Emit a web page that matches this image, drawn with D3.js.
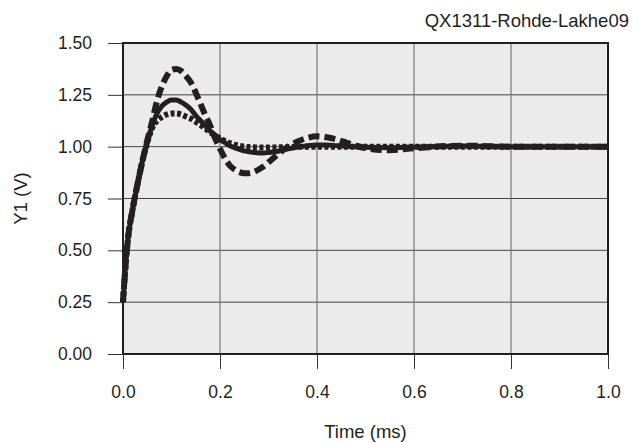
<!DOCTYPE html>
<html>
<head>
<meta charset="utf-8">
<script src="https://cdn.jsdelivr.net/npm/d3@7"></script>
<style>
body{margin:0;background:#fff}
text{font-family:"Liberation Sans",Arial,sans-serif;fill:#231f20}
</style>
</head>
<body>
<div id="chart"></div>
<script>
// time in ms, shared by all three responses
var times = [0,0.005,0.01,0.02,0.03,0.04,0.05,0.06,0.07,0.08,0.09,0.10,0.11,0.12,0.13,0.14,0.15,0.16,0.17,0.18,0.19,0.20,
	0.21,0.22,0.23,0.24,0.25,0.26,0.27,0.28,0.29,0.30,0.32,0.34,0.36,0.38,0.40,0.42,0.44,0.46,0.48,0.50,0.55,0.60,0.70,0.80,0.90,1.0]

var dashedY = [0.25,0.42,0.55,0.70,0.82,0.93,1.03,1.12,1.22,1.29,1.34,1.37,1.375,1.365,1.34,1.31,1.26,1.205,1.15,1.10,1.04,0.99,
	0.945,0.91,0.89,0.877,0.872,0.872,0.878,0.89,0.905,0.925,0.965,1.0,1.025,1.042,1.05,1.045,1.035,1.02,1.005,0.993,0.983,0.992,1.005,1.0,1.0,1.0]

var solidY = [0.25,0.42,0.55,0.70,0.82,0.93,1.02,1.10,1.16,1.195,1.215,1.225,1.225,1.215,1.20,1.18,1.15,1.125,1.10,1.075,1.055,1.035,
	1.02,1.005,0.995,0.987,0.98,0.975,0.972,0.97,0.97,0.972,0.978,0.99,0.998,1.005,1.008,1.008,1.005,1.002,1.0,0.997,0.995,0.998,1.003,1.0,1.0,1.0]

var dottedY = [0.25,0.42,0.55,0.70,0.82,0.93,1.02,1.09,1.125,1.143,1.155,1.16,1.16,1.155,1.145,1.135,1.12,1.105,1.088,1.07,1.053,1.04,
	1.027,1.017,1.01,1.004,1.0,0.998,0.997,0.996,0.996,0.996,0.997,0.998,1.0,1.0,1.0,1.0,1.0,1.0,1.0,1.0,1.0,1.0,1.0,1.0,1.0,1.0]

var xTicks = [0,0.2,0.4,0.6,0.8,1.0]
var yTicks = [0,0.25,0.5,0.75,1.0,1.25,1.5]

var W = 639, H = 443
var margin = {left:123, right:31, top:43, bottom:89}
var width = W-margin.left-margin.right
var height = H-margin.top-margin.bottom

var xScale = d3.scaleLinear().domain([0,1]).range([0,width])
var yScale = d3.scaleLinear().domain([0,1.5]).range([height,0])

var svg = d3.select("#chart").append("svg")
	.attr("width",W).attr("height",H)

svg.append("text").text("QX1311-Rohde-Lakhe09")
	.attr("x",629).attr("y",27)
	.attr("text-anchor","end")
	.style("font-size","18.5px")

var g = svg.append("g").attr("transform","translate("+margin.left+","+margin.top+")")

g.append("rect").attr("width",width).attr("height",height).attr("fill","#ebebeb")

// grid
g.selectAll(".hgrid").data(yTicks).enter().append("line")
	.attr("x1",0).attr("x2",width)
	.attr("y1",function(d){return yScale(d)}).attr("y2",function(d){return yScale(d)})
	.attr("stroke","#444").attr("stroke-width",1)
g.selectAll(".vgrid").data(xTicks).enter().append("line")
	.attr("y1",0).attr("y2",height)
	.attr("x1",function(d){return xScale(d)}).attr("x2",function(d){return xScale(d)})
	.attr("stroke","#777").attr("stroke-width",1.2)

var xAxis = d3.axisBottom(xScale).tickValues(xTicks).tickSize(15).tickPadding(17)
	.tickFormat(d3.format(".1f"))
var yAxis = d3.axisLeft(yScale).tickValues(yTicks).tickSize(15).tickPadding(16)
	.tickFormat(d3.format(".2f"))

var xG = g.append("g").attr("transform","translate(0,"+height+")").call(xAxis)
var yG = g.append("g").call(yAxis)
xG.select(".domain").remove()
yG.select(".domain").remove()
xG.selectAll("line").attr("stroke","#333")
yG.selectAll("line").attr("stroke","#333")
g.selectAll(".tick text").style("font-size","17.5px").attr("fill","#231f20")
	.style("font-family","'Liberation Sans',Arial,sans-serif")

// frame
g.append("rect").attr("width",width).attr("height",height)
	.attr("fill","none").attr("stroke","#231f20").attr("stroke-width",2)

function series(vals){
	return times.map(function(t,i){return [t,vals[i]]})
}
var line = d3.line()
	.x(function(d){return xScale(d[0])})
	.y(function(d){return yScale(d[1])})
	.curve(d3.curveMonotoneX)

g.append("path").datum(series(dottedY)).attr("d",line)
	.attr("fill","none").attr("stroke","#231f20").attr("stroke-width",6)
	.attr("stroke-dasharray","4,2.5")
g.append("path").datum(series(dashedY)).attr("d",line)
	.attr("fill","none").attr("stroke","#231f20").attr("stroke-width",6)
	.attr("stroke-dasharray","11,5")
g.append("path").datum(series(solidY)).attr("d",line)
	.attr("fill","none").attr("stroke","#231f20").attr("stroke-width",5)

svg.append("text").text("Time (ms)")
	.attr("x",margin.left+width/2).attr("y",438)
	.attr("text-anchor","middle")
	.style("font-size","18.5px")

svg.append("text").text("Y1 (V)")
	.attr("transform","translate(27,"+(margin.top+height/2)+") rotate(-90)")
	.attr("text-anchor","middle")
	.style("font-size","18.5px")
</script>
</body>
</html>
